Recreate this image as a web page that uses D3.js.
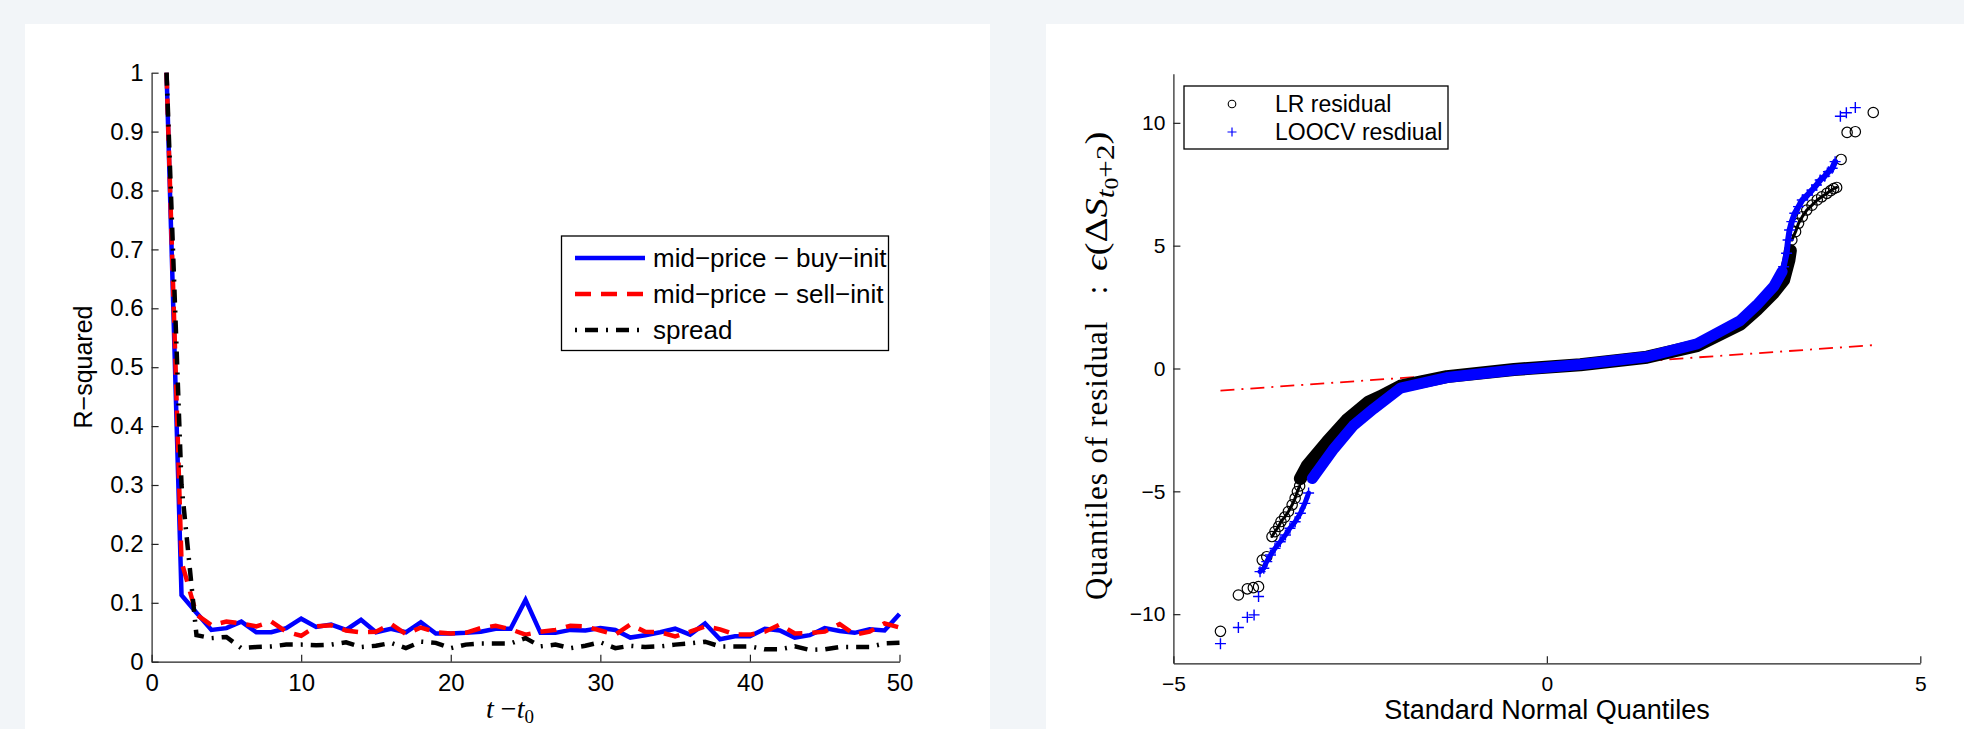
<!DOCTYPE html>
<html>
<head>
<meta charset="utf-8">
<script src="https://cdn.jsdelivr.net/npm/d3@7"></script>
<style>
  body{margin:0;background:#f2f5f8;}
  svg{display:block;}
</style>
</head>
<body>
<svg id="chart" width="1964" height="729"></svg>
<script>
// ---- left panel: R-squared vs lag
var lags=[1,2,3,4,5,6,7,8,9,10,11,12,13,14,15,16,17,18,19,20,21,22,23,24,25,
  26,27,28,29,30,31,32,33,34,35,36,37,38,39,40,41,42,43,44,45,46,47,48,49,50];
var buyInit=[1.0,0.113,0.083,0.054,0.057,0.068,0.050,0.050,0.057,0.073,0.059,0.063,0.054,0.071,0.050,
  0.056,0.050,0.067,0.048,0.048,0.049,0.051,0.056,0.056,0.105,0.049,0.049,0.054,0.053,0.057,
  0.054,0.041,0.045,0.050,0.056,0.046,0.065,0.038,0.043,0.043,0.056,0.053,0.041,0.045,0.057,
  0.052,0.049,0.055,0.053,0.081];
var sellInit=[1.0,0.17,0.080,0.062,0.068,0.065,0.060,0.068,0.051,0.044,0.060,0.062,0.053,0.050,0.051,
  0.064,0.047,0.058,0.050,0.048,0.049,0.057,0.061,0.055,0.046,0.051,0.054,0.061,0.060,0.053,
  0.046,0.063,0.051,0.050,0.043,0.051,0.060,0.055,0.046,0.046,0.051,0.063,0.048,0.049,0.051,
  0.064,0.046,0.051,0.065,0.058];
var spread=[1.0,0.30,0.045,0.040,0.042,0.023,0.025,0.026,0.029,0.029,0.028,0.029,0.033,0.025,0.027,
  0.032,0.023,0.034,0.032,0.023,0.029,0.031,0.031,0.031,0.040,0.026,0.029,0.023,0.027,0.033,
  0.023,0.027,0.025,0.026,0.029,0.031,0.034,0.026,0.026,0.026,0.021,0.021,0.026,0.020,0.021,
  0.025,0.025,0.025,0.031,0.032];
var leftXTicks=[0,10,20,30,40,50];
var leftYTicks=[0,0.1,0.2,0.3,0.4,0.5,0.6,0.7,0.8,0.9,1];
var seriesNames=["mid\u2212price \u2212 buy\u2212init","mid\u2212price \u2212 sell\u2212init","spread"];

// ---- right panel: QQ plot of residuals
// LR residual (black circles)
var lrLowX=[-3.68,-3.64,-3.59,-3.56,-3.51,-3.46,-3.41,-3.37,-3.34,-3.31];
var lrLowY=[-6.84,-6.64,-6.43,-6.23,-6.05,-5.82,-5.55,-5.28,-5.01,-4.78];
var lrBodyX=[-3.30,-3.21,-2.94,-2.68,-2.39,-2.23,-1.96,-1.34,-0.44,0.45,1.34,2.01,2.59,2.81,3.04,3.17,3.24,3.26];
var lrBodyY=[-4.48,-3.97,-2.99,-2.11,-1.37,-1.15,-0.72,-0.33,-0.04,0.15,0.46,0.93,1.80,2.40,3.10,3.60,4.40,4.80];
var lrHighX=[3.28,3.33,3.37,3.42,3.48,3.55,3.62,3.68,3.75,3.80,3.84,3.88];
var lrHighY=[5.23,5.57,5.91,6.18,6.45,6.65,6.86,6.99,7.13,7.24,7.32,7.37];
var lrOutX=[-4.37,-4.13,-4.01,-3.93,-3.86,-3.81,-3.75,3.94,4.02,4.13,4.37];
var lrOutY=[-10.70,-9.22,-8.97,-8.92,-8.88,-7.80,-7.66,8.51,9.61,9.64,10.42];
// LOOCV residual (blue pluses)
var loocvLowX=[-3.84,-3.79,-3.75,-3.70,-3.64,-3.57,-3.50,-3.44,-3.37,-3.30,-3.24,-3.19];
var loocvLowY=[-8.27,-8.13,-7.86,-7.59,-7.32,-7.05,-6.78,-6.50,-6.24,-5.89,-5.49,-5.07];
var loocvBodyX=[-3.14,-2.85,-2.59,-2.32,-1.96,-1.34,-0.44,0.45,1.34,2.01,2.59,2.81,3.04,3.15];
var loocvBodyY=[-4.48,-3.26,-2.32,-1.64,-0.80,-0.37,-0.06,0.16,0.48,1.00,1.95,2.58,3.35,3.95];
var loocvHighX=[3.17,3.21,3.23,3.25,3.28,3.32,3.37,3.42,3.49,3.55,3.61,3.66,3.72,3.77,3.82,3.86];
var loocvHighY=[4.14,4.69,5.23,5.64,5.98,6.32,6.59,6.86,7.06,7.26,7.47,7.67,7.83,8.01,8.15,8.42];
var loocvOutX=[-4.37,-4.13,-4.01,-3.92,-3.86,3.93,4.01,4.13];
var loocvOutY=[-11.2,-10.54,-10.13,-10.03,-9.28,10.27,10.41,10.62];
var refLineX=[-4.37,4.37];
var refLineY=[-0.90,0.95];
var rightXTicks=[-5,0,5];
var rightYTicks=[-10,-5,0,5,10];
var qqNames=["LR residual","LOOCV resdiual"];

var font='"Liberation Sans", Arial, sans-serif';
var serif='"Liberation Serif", "DejaVu Serif", serif';
var minus=function(d){return String(d).replace("-","\u2212");};

var svg=d3.select("#chart");

// cards
svg.append("rect").attr("x",25).attr("y",24).attr("width",965).attr("height",710).attr("fill","#fff");
svg.append("rect").attr("x",1046).attr("y",24).attr("width",930).attr("height",710).attr("fill","#fff");

// ================= left chart
var x1=d3.scaleLinear().domain([0,50]).range([151.6,899.5]);
var y1=d3.scaleLinear().domain([0,1]).range([661.7,72.7]);

var gL=svg.append("g");

var axB=gL.append("g").attr("transform","translate(0,"+y1(0)+")")
  .call(d3.axisBottom(x1).tickValues(leftXTicks).tickSize(-7).tickSizeOuter(0).tickPadding(12));
var axL=gL.append("g").attr("transform","translate("+x1(0)+",0)")
  .call(d3.axisLeft(y1).tickValues(leftYTicks).tickSize(-7).tickSizeOuter(0).tickPadding(8)
    .tickFormat(function(d){return String(+d.toFixed(1));}));
[axB,axL].forEach(function(a){
  a.selectAll("path,line").attr("stroke","#222").attr("stroke-width",1.2);
  a.selectAll("text").attr("font-family",font).attr("font-size",24).attr("fill","#000");
});

var line1=d3.line().x(function(d){return x1(d.t);}).y(function(d){return y1(d.v);});
var styles=[
  {data:buyInit,color:"#0000ff",dash:null},
  {data:sellInit,color:"#ff0000",dash:"16,10"},
  {data:spread,color:"#000000",dash:"13,8,2,8"}
];
styles.forEach(function(s){
  var pts=lags.map(function(t,i){return {t:t,v:s.data[i]};});
  gL.append("path").datum(pts)
    .attr("fill","none").attr("stroke",s.color).attr("stroke-width",4.5)
    .attr("stroke-dasharray",s.dash)
    .attr("d",line1);
});

gL.append("text")
  .attr("transform","translate(92,367) rotate(-90)")
  .attr("text-anchor","middle").attr("font-family",font).attr("font-size",25)
  .text("R\u2212squared");

var xl=gL.append("text").attr("x",510).attr("y",718).attr("text-anchor","middle")
  .attr("font-family",serif).attr("font-size",28);
xl.append("tspan").attr("font-style","italic").text("t");
xl.append("tspan").text(" \u2212");
xl.append("tspan").attr("font-style","italic").text("t");
xl.append("tspan").attr("font-size",19).attr("dy",5).text("0");

// legend left
var lg=gL.append("g");
lg.append("rect").attr("x",561.5).attr("y",236).attr("width",327).attr("height",114.5)
  .attr("fill","#fff").attr("stroke","#000").attr("stroke-width",1.3);
seriesNames.forEach(function(n,i){
  var yy=258+i*36;
  lg.append("line").attr("x1",575).attr("x2",645).attr("y1",yy).attr("y2",yy)
    .attr("stroke",styles[i].color).attr("stroke-width",4.5)
    .attr("stroke-dasharray",i==2?"2,8,13,8":styles[i].dash);
  lg.append("text").attr("x",653).attr("y",yy).attr("dy","0.35em")
    .attr("font-family",font).attr("font-size",26).text(n);
});

// ================= right chart
var x2=d3.scaleLinear().domain([-5,5]).range([1173.4,1920.3]);
var y2=d3.scaleLinear().domain([-12,12]).range([663.3,73.7]);

var gR=svg.append("g");
var rB=gR.append("g").attr("transform","translate(0,"+y2(-12)+")")
  .call(d3.axisBottom(x2).tickValues(rightXTicks).tickSize(-7).tickSizeOuter(0).tickPadding(13).tickFormat(minus));
var rL=gR.append("g").attr("transform","translate("+x2(-5)+",0)")
  .call(d3.axisLeft(y2).tickValues(rightYTicks).tickSize(-7).tickSizeOuter(0).tickPadding(8).tickFormat(minus));
[rB,rL].forEach(function(a){
  a.selectAll("path,line").attr("stroke","#222").attr("stroke-width",1.2);
  a.selectAll("text").attr("font-family",font).attr("font-size",21).attr("fill","#000");
});

var line2=d3.line().x(function(d){return x2(d[0]);}).y(function(d){return y2(d[1]);});
var zip=function(a,b){return a.map(function(v,i){return [v,b[i]];});};

// reference line (under the data)
gR.append("path").datum(zip(refLineX,refLineY))
  .attr("fill","none").attr("stroke","#ff0000").attr("stroke-width",1.8)
  .attr("stroke-dasharray","14,7,2,7")
  .attr("d",line2);

function band(pts,color,w){
  gR.append("path").datum(pts).attr("fill","none").attr("stroke",color)
    .attr("stroke-width",w).attr("stroke-linejoin","round").attr("stroke-linecap","round").attr("d",line2);
}
function circles(pts){
  gR.append("g").selectAll("circle").data(pts).enter().append("circle")
    .attr("cx",function(d){return x2(d[0]);}).attr("cy",function(d){return y2(d[1]);})
    .attr("r",5.2).attr("fill","none").attr("stroke","#000").attr("stroke-width",1.2);
}
function pluses(pts){
  gR.append("g").selectAll("path").data(pts).enter().append("path")
    .attr("transform",function(d){return "translate("+x2(d[0])+","+y2(d[1])+")";})
    .attr("d","M-5.5,0H5.5M0,-5.5V5.5").attr("stroke","#0000ff").attr("stroke-width",1.4);
}

// LR residual
band(zip(lrBodyX,lrBodyY),"#000",13);
band(zip(lrLowX,lrLowY),"#000",3);
band(zip(lrHighX,lrHighY),"#000",3);
circles(zip(lrLowX,lrLowY).concat(zip(lrHighX,lrHighY),zip(lrOutX,lrOutY)));

// LOOCV residual on top
band(zip(loocvBodyX,loocvBodyY),"#0000ff",11);
band(zip(loocvLowX,loocvLowY),"#0000ff",5);
band(zip(loocvHighX,loocvHighY),"#0000ff",6);
pluses(zip(loocvLowX,loocvLowY).concat(zip(loocvHighX,loocvHighY),zip(loocvOutX,loocvOutY)));

// right y label (LaTeX-like)
gR.append("text").attr("transform","translate(1107,600) rotate(-90)")
  .attr("font-family",serif).attr("font-size",31).attr("letter-spacing",1)
  .text("Quantiles of residual");
gR.append("text").attr("transform","translate(1107,290) rotate(-90)")
  .attr("text-anchor","middle").attr("font-family",serif).attr("font-size",31).text(":");
var ym=gR.append("text").attr("transform","translate(1107,271) rotate(-90) scale(1.25,1)")
  .attr("font-family",serif).attr("font-size",31);
ym.append("tspan").attr("font-style","italic").text("\u03f5");
ym.append("tspan").text("(\u0394");
ym.append("tspan").attr("font-style","italic").text("S");
ym.append("tspan").attr("font-style","italic").attr("font-size",25).attr("dy",7).text("t");
ym.append("tspan").attr("font-size",19).attr("dy",4).text("0");
ym.append("tspan").attr("font-size",25).attr("dy",-4).text("+2");
ym.append("tspan").attr("dy",-7).text(")");

gR.append("text").attr("x",1547).attr("y",719).attr("text-anchor","middle")
  .attr("font-family",font).attr("font-size",27).text("Standard Normal Quantiles");

// legend right
var lg2=gR.append("g");
lg2.append("rect").attr("x",1184).attr("y",86).attr("width",264).attr("height",63)
  .attr("fill","#fff").attr("stroke","#000").attr("stroke-width",1.3);
lg2.append("circle").attr("cx",1232).attr("cy",104).attr("r",3.8)
  .attr("fill","none").attr("stroke","#000").attr("stroke-width",1.1);
lg2.append("path").attr("transform","translate(1232,132)").attr("d","M-4.5,0H4.5M0,-4.5V4.5")
  .attr("stroke","#0000ff").attr("stroke-width",1.2);
qqNames.forEach(function(n,i){
  lg2.append("text").attr("x",1275).attr("y",104+i*28).attr("dy","0.35em")
    .attr("font-family",font).attr("font-size",23).text(n);
});
</script>
</body>
</html>
